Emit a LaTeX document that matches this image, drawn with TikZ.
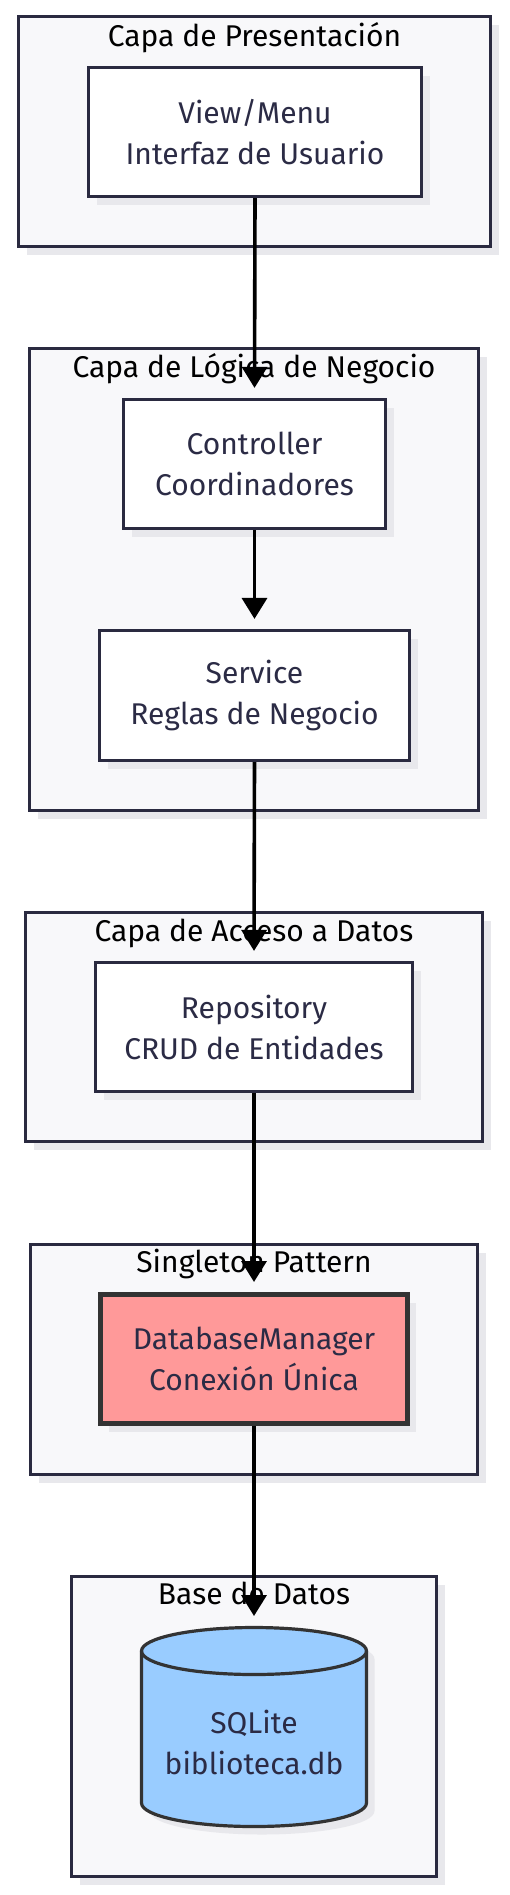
\documentclass[tikz,border=0pt]{standalone}
\usepackage{fontspec}
\setmainfont{Fira Sans}
\usetikzlibrary{arrows.meta,shadows}
\definecolor{clusterfill}{HTML}{F8F8FA}
\definecolor{clusterdraw}{HTML}{2A2A40}
\definecolor{shadowc}{HTML}{E8E8EC}
\definecolor{txt}{HTML}{2B2B45}
\definecolor{dbmfill}{HTML}{FF9999}
\definecolor{dbmdraw}{HTML}{333333}
\definecolor{sqlfill}{HTML}{99CCFF}
\begin{document}
\begin{tikzpicture}[x=1pt,y=-1pt,
  shad/.style={general shadow={fill=shadowc,shadow xshift=8pt,shadow yshift=-8pt}},
  cluster/.style={draw=clusterdraw,fill=clusterfill,line width=3.2pt,shad,inner sep=0pt},
  ctitle/.style={anchor=base,text=black,font=\fontsize{30}{34}\selectfont},
  box/.style={draw=clusterdraw,fill=white,line width=3.2pt,shad,align=center,text=txt,
    font=\fontsize{30}{41}\selectfont,inner sep=0pt},
  dbm/.style={box,draw=dbmdraw,fill=dbmfill,line width=5pt},
  arr/.style={draw=black,line width=3.6pt,-{Triangle[width=25pt,length=21pt]},shorten >=10pt}
]
\useasboundingbox (0,0) rectangle (509,1895);

% clusters
\node[cluster,minimum width=472pt,minimum height=230pt] (c1) at (254.5,131.5) {};
\node[ctitle] (t1) at (254.5,46) {Capa de Presentación};
\node[cluster,minimum width=449pt,minimum height=462pt] (c2) at (254,579.5) {};
\node[ctitle] (t2) at (254,377) {Capa de Lógica de Negocio};
\node[cluster,minimum width=457pt,minimum height=229pt] (c3) at (254,1027) {};
\node[ctitle] (t3) at (254,941) {Capa de Acceso a Datos};
\node[cluster,minimum width=447pt,minimum height=230pt] (c4) at (254,1359.5) {};
\node[ctitle] (t4) at (254,1272) {Singleton Pattern};
\node[cluster,minimum width=365pt,minimum height=300pt] (c5) at (254,1726.5) {};
\node[ctitle] (t5) at (254,1604) {Base de Datos};

% inner nodes
\node[box,minimum width=333pt,minimum height=129pt] (view) at (255,132) {View/Menu\\Interfaz de Usuario};
\node[box,minimum width=262pt,minimum height=129pt] (ctrl) at (254.5,464) {Controller\\Coordinadores};
\node[box,minimum width=310pt,minimum height=130pt] (svc) at (254.5,695.5) {Service\\Reglas de Negocio};
\node[box,minimum width=317pt,minimum height=129pt] (repo) at (254,1027) {Repository\\CRUD de Entidades};
\node[dbm,minimum width=307pt,minimum height=129pt] (dbm) at (254,1359) {DatabaseManager\\Conexión Única};

% cylinder
\begin{scope}[shift={(8,8)}]
\fill[shadowc] (141.5,1651) -- (141.5,1803)
  .. controls (141.5,1816) and (191.5,1826.5) .. (254,1826.5)
  .. controls (316.5,1826.5) and (366.5,1816) .. (366.5,1803)
  -- (366.5,1651)
  .. controls (366.5,1638) and (316.5,1627.5) .. (254,1627.5)
  .. controls (191.5,1627.5) and (141.5,1638) .. (141.5,1651) -- cycle;
\end{scope}
\draw[draw=dbmdraw,fill=sqlfill,line width=3.2pt] (141.5,1651) -- (141.5,1803)
  .. controls (141.5,1816) and (191.5,1826.5) .. (254,1826.5)
  .. controls (316.5,1826.5) and (366.5,1816) .. (366.5,1803)
  -- (366.5,1651)
  .. controls (366.5,1638) and (316.5,1627.5) .. (254,1627.5)
  .. controls (191.5,1627.5) and (141.5,1638) .. (141.5,1651) -- cycle;
\draw[draw=dbmdraw,line width=3.2pt] (141.5,1651)
  .. controls (141.5,1664) and (191.5,1674.5) .. (254,1674.5)
  .. controls (316.5,1674.5) and (366.5,1664) .. (366.5,1651);
\node[minimum width=228pt,minimum height=202pt,inner sep=0pt] (db) at (254,1727) {};
\node[align=center,text=txt,font=\fontsize{30}{41}\selectfont] (dbtext) at (254,1742) {SQLite\\biblioteca.db};
\coordinate (dbtop) at (254,1626);

% connectors
\draw[arr] (view.south) -- (ctrl.north);
\draw[arr] (ctrl.south) -- (svc.north);
\draw[arr] (svc.south) -- (repo.north);
\draw[arr] (repo.south) -- (dbm.north);
\draw[arr] (dbm.south) -- (dbtop);
\end{tikzpicture}
\end{document}
